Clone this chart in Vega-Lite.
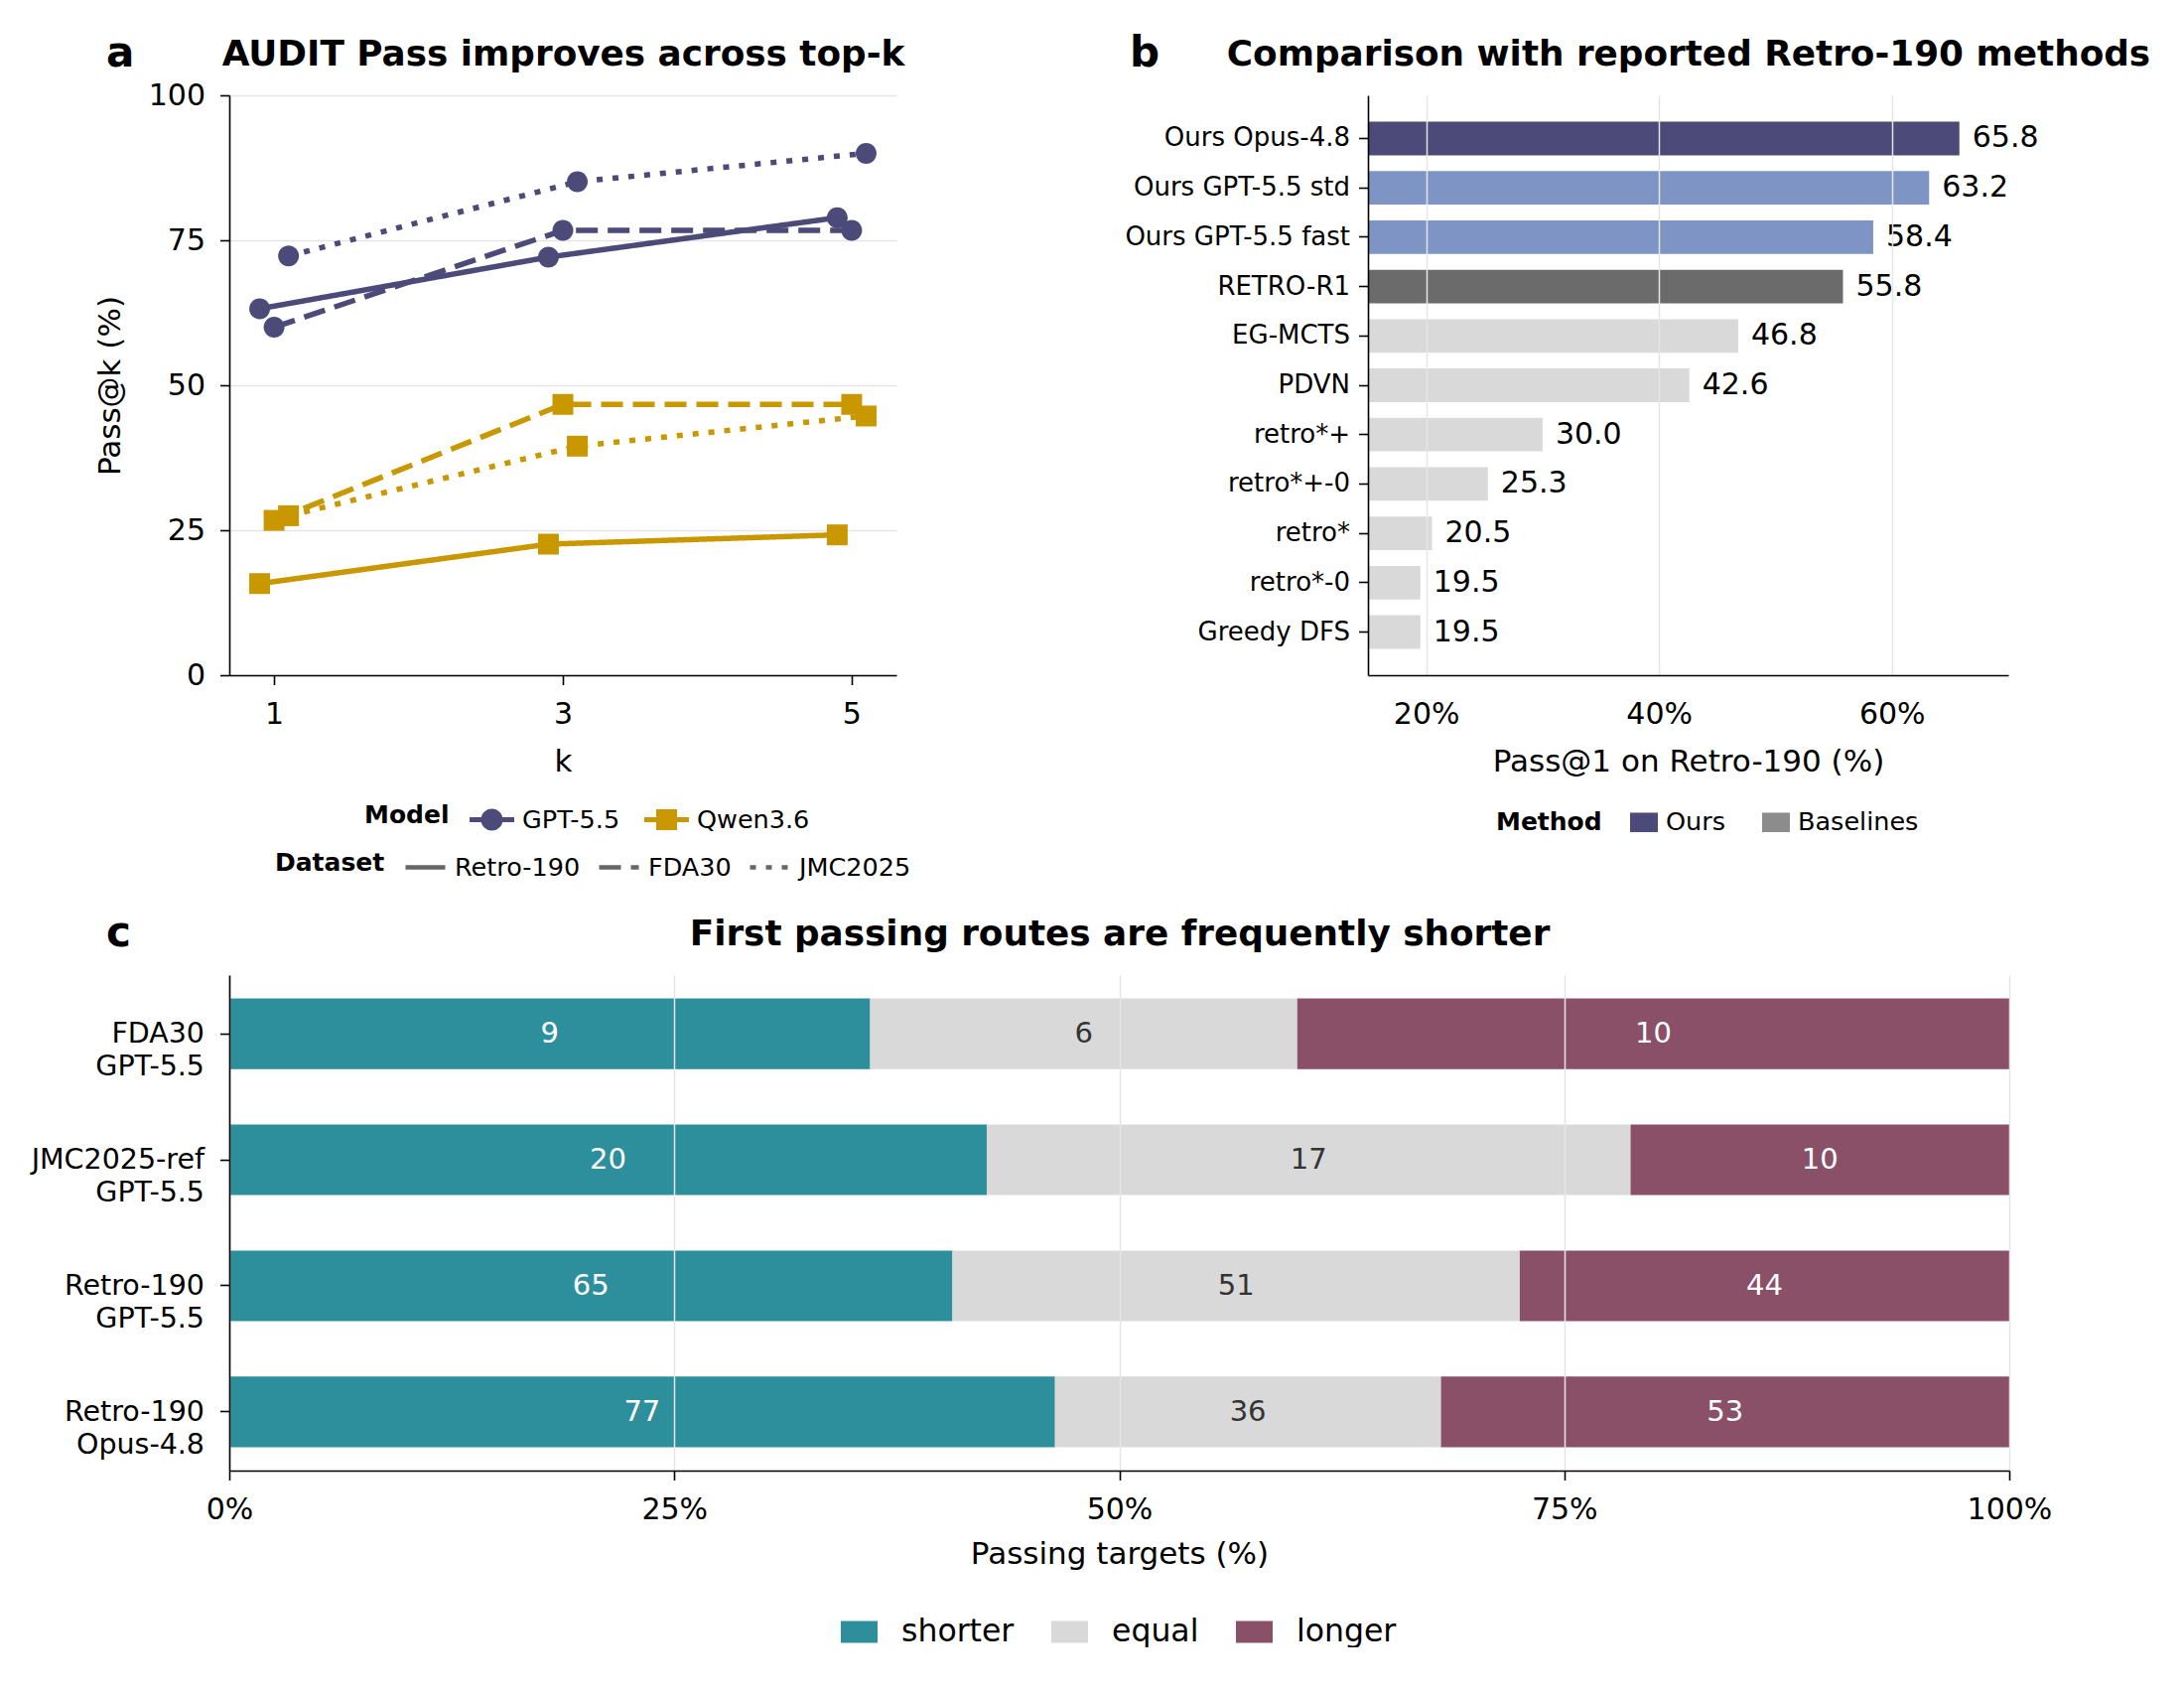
{
  "$schema": "https://vega.github.io/schema/vega-lite/v6.json",
  "background": "white",
  "padding": {"left": 31, "top": 33, "right": 0, "bottom": 0},
  "config": {
    "font": "DejaVu Sans",
    "view": {"stroke": null},
    "axis": {"domainColor": "#000000", "domainWidth": 1.6, "tickColor": "#000000", "tickWidth": 1.6, "tickSize": 9.5, "labelColor": "#000000", "titleColor": "#000000", "titleFontWeight": "normal", "labelFontSize": 30, "titleFontSize": 31, "gridColor": "#e5e5e5", "gridWidth": 1.5, "labelPadding": 15, "titlePadding": 18, "labelFlush": false, "labelOverlap": false, "labelLimit": 500},
    "legend": {"labelColor": "#000000", "titleColor": "#000000", "labelFontSize": 25.5, "titleFontSize": 25, "titleFontWeight": "bold", "padding": 0, "titlePadding": 20, "labelLimit": 500, "titleAnchor": "middle", "titleBaseline": "middle"},
    "title": {"color": "#000000", "fontWeight": "bold"}
  },
  "bounds": "flush",
  "spacing": 886,
  "resolve": {"scale": {"color": "independent", "shape": "independent", "strokeDash": "independent"}, "legend": {"color": "independent", "shape": "independent", "strokeDash": "independent"}},
  "vconcat": [
    {
      "bounds": "flush",
      "spacing": 475,
      "resolve": {"scale": {"color": "independent", "shape": "independent", "strokeDash": "independent"}, "legend": {"color": "independent", "shape": "independent", "strokeDash": "independent"}},
      "hconcat": [
        {
          "width": 672,
          "height": 584,
          "title": {"text": "a", "anchor": "start", "frame": "group", "dx": -124, "dy": 40, "offset": 0, "fontSize": 42, "fontWeight": "bold"},
          "data": {"values": [
            {"Model": "GPT-5.5", "Dataset": "Retro-190", "k": 1, "pass": 63.2},
            {"Model": "GPT-5.5", "Dataset": "Retro-190", "k": 3, "pass": 72.1},
            {"Model": "GPT-5.5", "Dataset": "Retro-190", "k": 5, "pass": 78.9},
            {"Model": "GPT-5.5", "Dataset": "FDA30", "k": 1, "pass": 60.0},
            {"Model": "GPT-5.5", "Dataset": "FDA30", "k": 3, "pass": 76.7},
            {"Model": "GPT-5.5", "Dataset": "FDA30", "k": 5, "pass": 76.7},
            {"Model": "GPT-5.5", "Dataset": "JMC2025", "k": 1, "pass": 72.3},
            {"Model": "GPT-5.5", "Dataset": "JMC2025", "k": 3, "pass": 85.1},
            {"Model": "GPT-5.5", "Dataset": "JMC2025", "k": 5, "pass": 90.0},
            {"Model": "Qwen3.6", "Dataset": "Retro-190", "k": 1, "pass": 15.8},
            {"Model": "Qwen3.6", "Dataset": "Retro-190", "k": 3, "pass": 22.6},
            {"Model": "Qwen3.6", "Dataset": "Retro-190", "k": 5, "pass": 24.2},
            {"Model": "Qwen3.6", "Dataset": "FDA30", "k": 1, "pass": 26.7},
            {"Model": "Qwen3.6", "Dataset": "FDA30", "k": 3, "pass": 46.7},
            {"Model": "Qwen3.6", "Dataset": "FDA30", "k": 5, "pass": 46.7},
            {"Model": "Qwen3.6", "Dataset": "JMC2025", "k": 1, "pass": 27.5},
            {"Model": "Qwen3.6", "Dataset": "JMC2025", "k": 3, "pass": 39.5},
            {"Model": "Qwen3.6", "Dataset": "JMC2025", "k": 5, "pass": 44.7}
          ]},
          "layer": [
            {
              "transform": [{"filter": "datum.Dataset === 'Retro-190'"}],
              "mark": {"type": "line", "strokeWidth": 5.5, "xOffset": -14.55},
              "encoding": {
                "x": {"field": "k", "type": "quantitative", "scale": {"domain": [0.69, 5.31], "nice": false, "zero": false}, "axis": {"values": [1, 3, 5], "title": "k", "grid": false}},
                "y": {"field": "pass", "type": "quantitative", "scale": {"domain": [0, 100], "nice": false}, "axis": {"values": [0, 25, 50, 75, 100], "title": "Pass@k (%)", "grid": true, "titlePadding": 22}},
                "color": {"field": "Model", "type": "nominal", "scale": {"domain": ["GPT-5.5", "Qwen3.6"], "range": ["#4b4a78", "#c99700"]}, "legend": null},
                "strokeDash": {"field": "Dataset", "type": "nominal", "scale": {"domain": ["Retro-190", "FDA30", "JMC2025"], "range": [[1, 0], [22, 10], [6, 10]]}, "legend": {"title": "Dataset", "orient": "none", "legendX": 46, "legendY": 755, "direction": "horizontal", "titleOrient": "left", "titlePadding": 18, "symbolSize": 1600, "symbolStrokeColor": "#666666", "symbolStrokeWidth": 4.5, "labelOffset": 7, "columnPadding": 9}}
              }
            },
            {
              "transform": [{"filter": "datum.Dataset === 'Retro-190'"}],
              "mark": {"type": "point", "filled": true, "opacity": 1, "strokeWidth": 0, "size": 441, "xOffset": -14.55},
              "encoding": {
                "x": {"field": "k", "type": "quantitative", "axis": {"orient": "top", "title": "AUDIT Pass improves across top-k", "domain": false, "ticks": false, "labels": false, "grid": false, "titleFontSize": 35.8, "titleFontWeight": "bold", "titleY": -31, "titleBaseline": "alphabetic"}},
                "y": {"field": "pass", "type": "quantitative"},
                "color": {"field": "Model", "type": "nominal", "scale": {"domain": ["GPT-5.5", "Qwen3.6"], "range": ["#4b4a78", "#c99700"]}, "legend": null},
                "shape": {"field": "Model", "type": "nominal", "scale": {"domain": ["GPT-5.5", "Qwen3.6"], "range": ["M-1,0A1,1 0 1,1 1,0A1,1 0 1,1 -1,0Z", "square"]}, "legend": null}
              }
            },
            {
              "transform": [{"filter": "datum.Dataset === 'FDA30'"}],
              "mark": {"type": "line", "strokeWidth": 5.5},
              "encoding": {
                "x": {"field": "k", "type": "quantitative", "axis": null},
                "y": {"field": "pass", "type": "quantitative"},
                "color": {"field": "Model", "type": "nominal", "scale": {"domain": ["GPT-5.5", "Qwen3.6"], "range": ["#4b4a78", "#c99700"]}, "legend": null},
                "strokeDash": {"field": "Dataset", "type": "nominal"}
              }
            },
            {
              "transform": [{"filter": "datum.Dataset === 'FDA30'"}],
              "mark": {"type": "point", "filled": true, "opacity": 1, "strokeWidth": 0, "size": 441},
              "encoding": {
                "x": {"field": "k", "type": "quantitative", "axis": null},
                "y": {"field": "pass", "type": "quantitative"},
                "color": {"field": "Model", "type": "nominal", "scale": {"domain": ["GPT-5.5", "Qwen3.6"], "range": ["#4b4a78", "#c99700"]}, "legend": null},
                "shape": {"field": "Model", "type": "nominal", "scale": {"domain": ["GPT-5.5", "Qwen3.6"], "range": ["M-1,0A1,1 0 1,1 1,0A1,1 0 1,1 -1,0Z", "square"]}, "legend": null}
              }
            },
            {
              "transform": [{"filter": "datum.Dataset === 'JMC2025'"}],
              "mark": {"type": "line", "strokeWidth": 5.5, "xOffset": 14.55},
              "encoding": {
                "x": {"field": "k", "type": "quantitative", "axis": null},
                "y": {"field": "pass", "type": "quantitative"},
                "color": {"field": "Model", "type": "nominal", "scale": {"domain": ["GPT-5.5", "Qwen3.6"], "range": ["#4b4a78", "#c99700"]}, "legend": null},
                "strokeDash": {"field": "Dataset", "type": "nominal"}
              }
            },
            {
              "transform": [{"filter": "datum.Dataset === 'JMC2025'"}],
              "mark": {"type": "point", "filled": true, "opacity": 1, "strokeWidth": 0, "size": 441, "xOffset": 14.55},
              "encoding": {
                "x": {"field": "k", "type": "quantitative", "axis": null},
                "y": {"field": "pass", "type": "quantitative"},
                "color": {"field": "Model", "type": "nominal", "scale": {"domain": ["GPT-5.5", "Qwen3.6"], "range": ["#4b4a78", "#c99700"]}, "legend": null},
                "shape": {"field": "Model", "type": "nominal", "scale": {"domain": ["GPT-5.5", "Qwen3.6"], "range": ["M-1,0A1,1 0 1,1 1,0A1,1 0 1,1 -1,0Z", "square"]}, "legend": null}
              }
            },
            {
              "transform": [{"filter": "false"}],
              "mark": {"type": "point", "filled": true, "opacity": 1, "strokeWidth": 0, "size": 2025},
              "encoding": {
                "x": {"field": "k", "type": "quantitative", "axis": null},
                "y": {"field": "pass", "type": "quantitative"},
                "color": {"field": "Model", "type": "nominal", "scale": {"domain": ["GPT-5.5", "Qwen3.6"], "range": ["#4b4a78", "#c99700"]}, "legend": {"title": "Model", "orient": "none", "legendX": 136, "legendY": 707, "direction": "horizontal", "titleOrient": "left", "titlePadding": 20, "symbolSize": 2025, "symbolStrokeWidth": 0, "symbolOpacity": 1, "labelOffset": 8, "columnPadding": 24}},
                "shape": {"field": "Model", "type": "nominal", "scale": {"domain": ["GPT-5.5", "Qwen3.6"], "range": ["M-1,-0.111L1,-0.111L1,0.111L-1,0.111Z M0.489,0A0.489,0.489 0 1,1 -0.489,0A0.489,0.489 0 1,1 0.489,0Z", "M-1,-0.111L1,-0.111L1,0.111L-1,0.111Z M-0.467,-0.467L0.467,-0.467L0.467,0.467L-0.467,0.467Z"]}, "legend": {"title": "Model", "orient": "none", "legendX": 136, "legendY": 707, "direction": "horizontal", "titleOrient": "left", "titlePadding": 20, "symbolSize": 2025, "symbolStrokeWidth": 0, "symbolOpacity": 1, "labelOffset": 8, "columnPadding": 24}}
              }
            }
          ],
          "resolve": {"axis": {"x": "independent"}, "scale": {"color": "independent", "shape": "independent"}, "legend": {"color": "independent", "shape": "independent"}}
        },
        {
          "width": 645,
          "height": 584,
          "title": {"text": "b", "anchor": "start", "frame": "group", "dx": -240, "dy": 40, "offset": 0, "fontSize": 42, "fontWeight": "bold"},
          "data": {"values": [
            {"method": "Ours Opus-4.8", "Method": "Ours", "value": 65.8},
            {"method": "Ours GPT-5.5 std", "Method": "Ours", "value": 63.2},
            {"method": "Ours GPT-5.5 fast", "Method": "Ours", "value": 58.4},
            {"method": "RETRO-R1", "Method": "Baselines", "value": 55.8},
            {"method": "EG-MCTS", "Method": "Baselines", "value": 46.8},
            {"method": "PDVN", "Method": "Baselines", "value": 42.6},
            {"method": "retro*+", "Method": "Baselines", "value": 30.0},
            {"method": "retro*+-0", "Method": "Baselines", "value": 25.3},
            {"method": "retro*", "Method": "Baselines", "value": 20.5},
            {"method": "retro*-0", "Method": "Baselines", "value": 19.5},
            {"method": "Greedy DFS", "Method": "Baselines", "value": 19.5}
          ]},
          "layer": [
            {
              "mark": {"type": "bar", "clip": true},
              "encoding": {
                "y": {"field": "method", "type": "nominal", "sort": null, "scale": {"paddingInner": 0.32, "paddingOuter": 0.535}, "axis": {"title": null, "labelFontSize": 26, "labelPadding": 9, "zindex": 1}},
                "x": {"field": "value", "type": "quantitative", "scale": {"domain": [15, 70], "nice": false, "zero": false}, "axis": {"values": [20, 40, 60], "labelExpr": "datum.value + '%'", "title": "Pass@1 on Retro-190 (%)", "grid": true, "ticks": false, "tickSize": 0, "labelPadding": 24.5, "zindex": 1}},
                "color": {
                  "condition": [
                    {"test": "datum.method === 'Ours GPT-5.5 std' || datum.method === 'Ours GPT-5.5 fast'", "value": "#7d94c5"},
                    {"test": "datum.method === 'RETRO-R1'", "value": "#6b6b6b"},
                    {"test": "datum.Method === 'Baselines'", "value": "#d9d9d9"}
                  ],
                  "field": "Method", "type": "nominal",
                  "scale": {"domain": ["Ours", "Baselines"], "range": ["#4b4a78", "#8c8c8c"]},
                  "legend": {"title": "Method", "orient": "none", "legendX": 129, "legendY": 718, "direction": "horizontal", "titleOrient": "left", "titlePadding": 28, "symbolType": "M-1,-0.7L1,-0.7L1,0.7L-1,0.7Z", "symbolSize": 784, "symbolStrokeWidth": 0, "labelOffset": 8, "columnPadding": 36}
                }
              }
            },
            {
              "mark": {"type": "text", "align": "left", "baseline": "middle", "dx": 13, "fontSize": 30, "color": "#000000"},
              "encoding": {
                "y": {"field": "method", "type": "nominal", "sort": null},
                "x": {"field": "value", "type": "quantitative", "axis": {"orient": "top", "title": "Comparison with reported Retro-190 methods", "domain": false, "ticks": false, "labels": false, "grid": false, "titleFontSize": 35.8, "titleFontWeight": "bold", "titleY": -31, "titleBaseline": "alphabetic"}},
                "text": {"field": "value", "type": "quantitative", "format": ".1f"}
              }
            }
          ],
          "resolve": {"axis": {"x": "independent"}}
        }
      ]
    },
    {
      "width": 1793,
      "height": 499,
      "title": {"text": "c", "anchor": "start", "frame": "group", "dx": -124, "dy": 40, "offset": 0, "fontSize": 42, "fontWeight": "bold"},
      "data": {"values": [
        {"run": "FDA30 GPT-5.5", "Length": "shorter", "seg": 1, "n": 9},
        {"run": "FDA30 GPT-5.5", "Length": "equal", "seg": 2, "n": 6},
        {"run": "FDA30 GPT-5.5", "Length": "longer", "seg": 3, "n": 10},
        {"run": "JMC2025-ref GPT-5.5", "Length": "shorter", "seg": 1, "n": 20},
        {"run": "JMC2025-ref GPT-5.5", "Length": "equal", "seg": 2, "n": 17},
        {"run": "JMC2025-ref GPT-5.5", "Length": "longer", "seg": 3, "n": 10},
        {"run": "Retro-190 GPT-5.5", "Length": "shorter", "seg": 1, "n": 65},
        {"run": "Retro-190 GPT-5.5", "Length": "equal", "seg": 2, "n": 51},
        {"run": "Retro-190 GPT-5.5", "Length": "longer", "seg": 3, "n": 44},
        {"run": "Retro-190 Opus-4.8", "Length": "shorter", "seg": 1, "n": 77},
        {"run": "Retro-190 Opus-4.8", "Length": "equal", "seg": 2, "n": 36},
        {"run": "Retro-190 Opus-4.8", "Length": "longer", "seg": 3, "n": 53}
      ]},
      "layer": [
        {
          "mark": {"type": "bar"},
          "encoding": {
            "y": {"field": "run", "type": "nominal", "sort": null, "scale": {"paddingInner": 0.44, "paddingOuter": 0.186}, "axis": {"title": null, "labelExpr": "split(datum.label, ' ')", "labelFontSize": 28.5, "labelLineHeight": 33, "labelPadding": 16, "zindex": 1}},
            "x": {"field": "n", "type": "quantitative", "stack": "normalize", "scale": {"domain": [0, 1], "nice": false}, "axis": {"values": [0, 0.25, 0.5, 0.75, 1], "format": ".0%", "title": "Passing targets (%)", "titlePadding": 15, "grid": true, "zindex": 1}},
            "color": {"field": "Length", "type": "nominal", "scale": {"domain": ["shorter", "equal", "longer"], "range": ["#2e8f9c", "#d9d9d9", "#8a5068"]}, "legend": {"title": null, "orient": "none", "legendX": 616, "legendY": 643, "direction": "horizontal", "symbolType": "M-1,-0.6L1,-0.6L1,0.6L-1,0.6Z", "symbolSize": 1369, "symbolStrokeWidth": 0, "labelFontSize": 31.5, "labelOffset": 24, "columnPadding": 37}},
            "order": {"field": "seg", "type": "quantitative"}
          }
        },
        {
          "mark": {"type": "text", "align": "center", "baseline": "middle", "fontSize": 29},
          "encoding": {
            "y": {"field": "run", "type": "nominal", "sort": null},
            "x": {"field": "n", "type": "quantitative", "stack": "normalize", "bandPosition": 0.5, "axis": {"orient": "top", "title": "First passing routes are frequently shorter", "domain": false, "ticks": false, "labels": false, "grid": false, "titleFontSize": 35.8, "titleFontWeight": "bold", "titleY": -31, "titleBaseline": "alphabetic"}},
            "detail": {"field": "Length", "type": "nominal"},
            "order": {"field": "seg", "type": "quantitative"},
            "text": {"field": "n", "type": "quantitative"},
            "color": {"condition": {"test": "datum.Length === 'equal'", "value": "#333333"}, "value": "#ffffff"}
          }
        }
      ],
      "resolve": {"axis": {"x": "independent"}}
    }
  ]
}
